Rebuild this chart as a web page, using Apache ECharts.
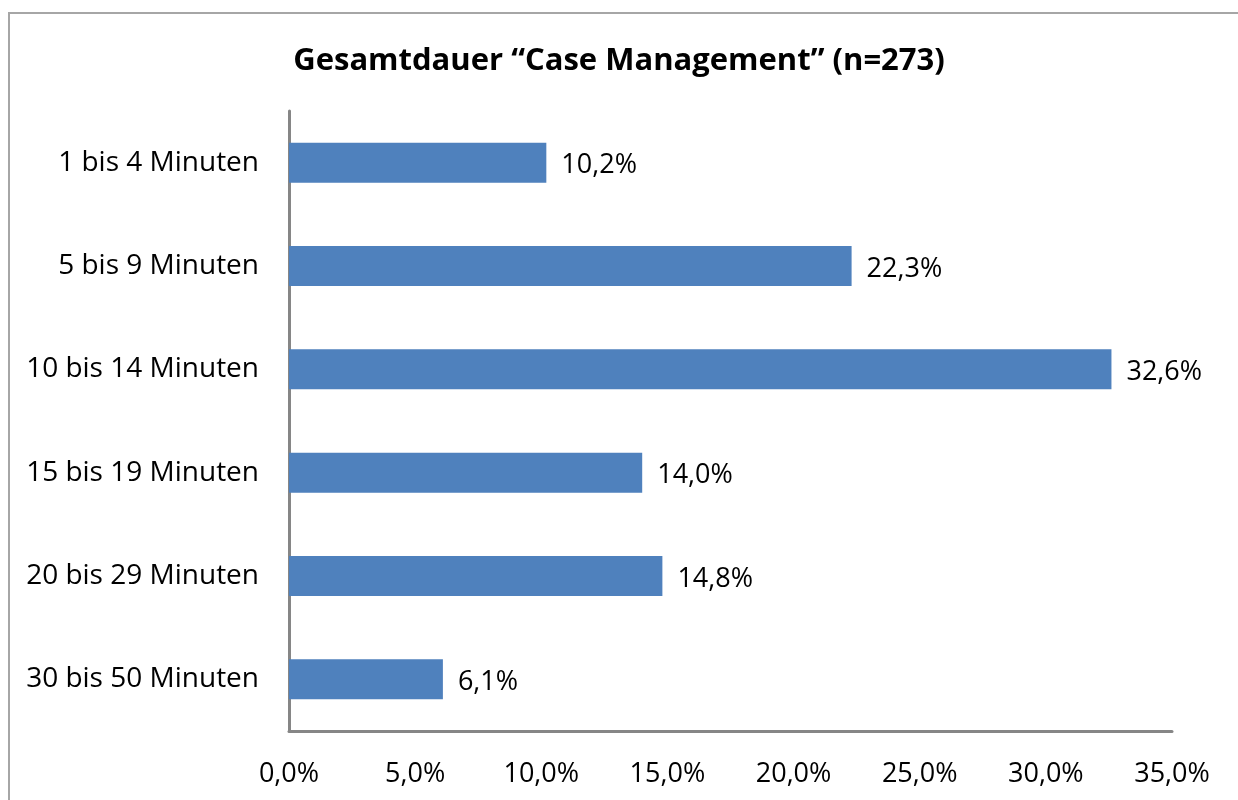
<!DOCTYPE html>
<html>
<head>
<meta charset="utf-8">
<script src="https://cdn.jsdelivr.net/npm/echarts@6/dist/echarts.min.js"></script>
<style>
  html, body { margin: 0; padding: 0; background: #fff; }
  #frame { position: absolute; left: 8px; top: 12px; width: 1240px; height: 800px; border-left: 2px solid #a6a6a6; border-top: 2px solid #a6a6a6; }
  #chart { position: absolute; left: 0; top: 0; width: 1238px; height: 800px; }
</style>
</head>
<body>
<div id="frame"></div>
<div id="chart"></div>
<script>
const categories = ['1 bis 4 Minuten', '5 bis 9 Minuten', '10 bis 14 Minuten', '15 bis 19 Minuten', '20 bis 29 Minuten', '30 bis 50 Minuten']
const shares = [10.2, 22.3, 32.6, 14.0, 14.8, 6.1]
const titleText = 'Gesamtdauer \u201cCase Management\u201d (n=273)'

const fmt = (v) => Number(v).toFixed(1).replace('.', ',') + '%'
const font = '"Open Sans", "Noto Sans", sans-serif'

const chart = echarts.init(document.getElementById('chart'), null, { renderer: 'canvas' })
chart.setOption({
  animation: false,
  backgroundColor: 'transparent',
  title: {
    text: titleText,
    left: 'center',
    top: 41,
    textStyle: { fontFamily: font, fontSize: 31, fontWeight: 'bold', color: '#000' },
  },
  grid: { left: 289, right: 66, top: 111, bottom: 69, containLabel: false },
  xAxis: {
    type: 'value',
    min: 0,
    max: 35,
    interval: 5,
    axisLabel: { formatter: fmt, fontFamily: font, fontSize: 27, color: '#000', margin: 30 },
    axisLine: { show: true, lineStyle: { color: '#868686', width: 3 } },
    axisTick: { show: false },
    splitLine: { show: false },
  },
  yAxis: {
    type: 'category',
    data: categories,
    inverse: true,
    axisLabel: { fontFamily: font, fontSize: 28, color: '#000', margin: 30, padding: [6, 0, 0, 0] },
    axisLine: { show: true, lineStyle: { color: '#868686', width: 3 } },
    axisTick: { show: false },
  },
  series: [{
    type: 'bar',
    data: shares,
    barWidth: 40,
    itemStyle: { color: '#4F81BD' },
    label: {
      show: true,
      position: 'right',
      distance: 15,
      offset: [0, 3],
      formatter: (p) => fmt(p.value),
      fontFamily: font,
      fontSize: 27,
      color: '#000',
    },
  }],
})
</script>
</body>
</html>
